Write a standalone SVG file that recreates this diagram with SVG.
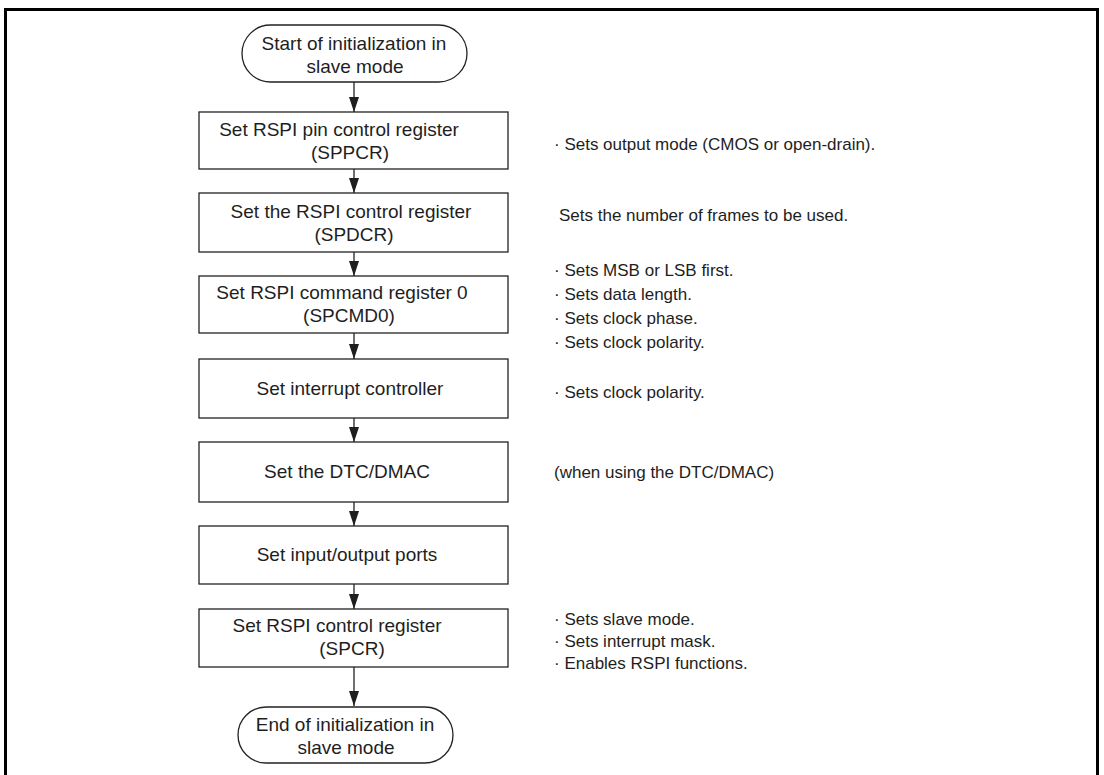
<svg xmlns="http://www.w3.org/2000/svg" width="1104" height="775" viewBox="0 0 1104 775">
<defs>
<style>
.frame{fill:none;stroke:#000;stroke-width:3}
.box{fill:#fff;stroke:#222;stroke-width:1.3}
.t{font-family:"Liberation Sans",Arial,sans-serif;font-size:19px;fill:#1e1e1e;text-anchor:middle}
.a{font-family:"Liberation Sans",Arial,sans-serif;font-size:17px;fill:#1e1e1e}
.c{stroke:#222;stroke-width:1.3;fill:none;marker-end:url(#arr)}
</style>
<marker id="arr" viewBox="0 0 15 10" refX="15" refY="5" markerWidth="15" markerHeight="10" markerUnits="userSpaceOnUse" orient="auto">
<path d="M0,0 L15,5 L0,10 z" fill="#1e1e1e"/>
</marker>
</defs>
<rect width="1104" height="775" fill="#fff"/>
<rect class="frame" x="5.5" y="9.5" width="1092" height="800"/>

<g id="connectors">
<line class="c" x1="354" y1="82" x2="354" y2="112"/>
<line class="c" x1="354" y1="169" x2="354" y2="193"/>
<line class="c" x1="354" y1="252" x2="354" y2="276"/>
<line class="c" x1="354" y1="333" x2="354" y2="359"/>
<line class="c" x1="354" y1="418" x2="354" y2="442"/>
<line class="c" x1="354" y1="502" x2="354" y2="526"/>
<line class="c" x1="354" y1="584" x2="354" y2="609"/>
<line class="c" x1="354" y1="667" x2="354" y2="706"/>
</g>

<g id="start">
<rect class="box" x="242" y="25" width="225" height="57" rx="28.5" ry="28.5"/>
<text class="t" x="354" y="50">Start of initialization in</text>
<text class="t" x="355" y="73">slave mode</text>
</g>

<g id="sppcr">
<rect class="box" x="199" y="112" width="309" height="57"/>
<text class="t" x="339" y="136">Set RSPI pin control register</text>
<text class="t" x="350" y="159">(SPPCR)</text>
</g>

<g id="spdcr">
<rect class="box" x="199" y="193" width="309" height="59"/>
<text class="t" x="351" y="218">Set the RSPI control register</text>
<text class="t" x="354" y="241">(SPDCR)</text>
</g>

<g id="spcmd0">
<rect class="box" x="199" y="276" width="309" height="57"/>
<text class="t" x="342" y="299">Set RSPI command register 0</text>
<text class="t" x="349" y="322">(SPCMD0)</text>
</g>

<g id="intc">
<rect class="box" x="199" y="359" width="309" height="59"/>
<text class="t" x="350" y="395">Set interrupt controller</text>
</g>

<g id="dtc">
<rect class="box" x="199" y="442" width="309" height="60"/>
<text class="t" x="347" y="478">Set the DTC/DMAC</text>
</g>

<g id="ports">
<rect class="box" x="199" y="526" width="309" height="58"/>
<text class="t" x="347" y="561">Set input/output ports</text>
</g>

<g id="spcr">
<rect class="box" x="199" y="609" width="309" height="58"/>
<text class="t" x="337" y="632">Set RSPI control register</text>
<text class="t" x="352" y="655">(SPCR)</text>
</g>

<g id="end">
<rect class="box" x="238" y="707" width="215" height="56" rx="28" ry="28"/>
<text class="t" x="345" y="731">End of initialization in</text>
<text class="t" x="346" y="754">slave mode</text>
</g>

<g id="notes">
<text class="a" x="554" y="150">· Sets output mode (CMOS or open-drain).</text>
<text class="a" x="559" y="221">Sets the number of frames to be used.</text>
<text class="a" x="554" y="276">· Sets MSB or LSB first.</text>
<text class="a" x="554" y="300">· Sets data length.</text>
<text class="a" x="554" y="324">· Sets clock phase.</text>
<text class="a" x="554" y="348">· Sets clock polarity.</text>
<text class="a" x="554" y="398">· Sets clock polarity.</text>
<text class="a" x="554" y="478">(when using the DTC/DMAC)</text>
<text class="a" x="554" y="625">· Sets slave mode.</text>
<text class="a" x="554" y="647">· Sets interrupt mask.</text>
<text class="a" x="554" y="669">· Enables RSPI functions.</text>
</g>
</svg>
